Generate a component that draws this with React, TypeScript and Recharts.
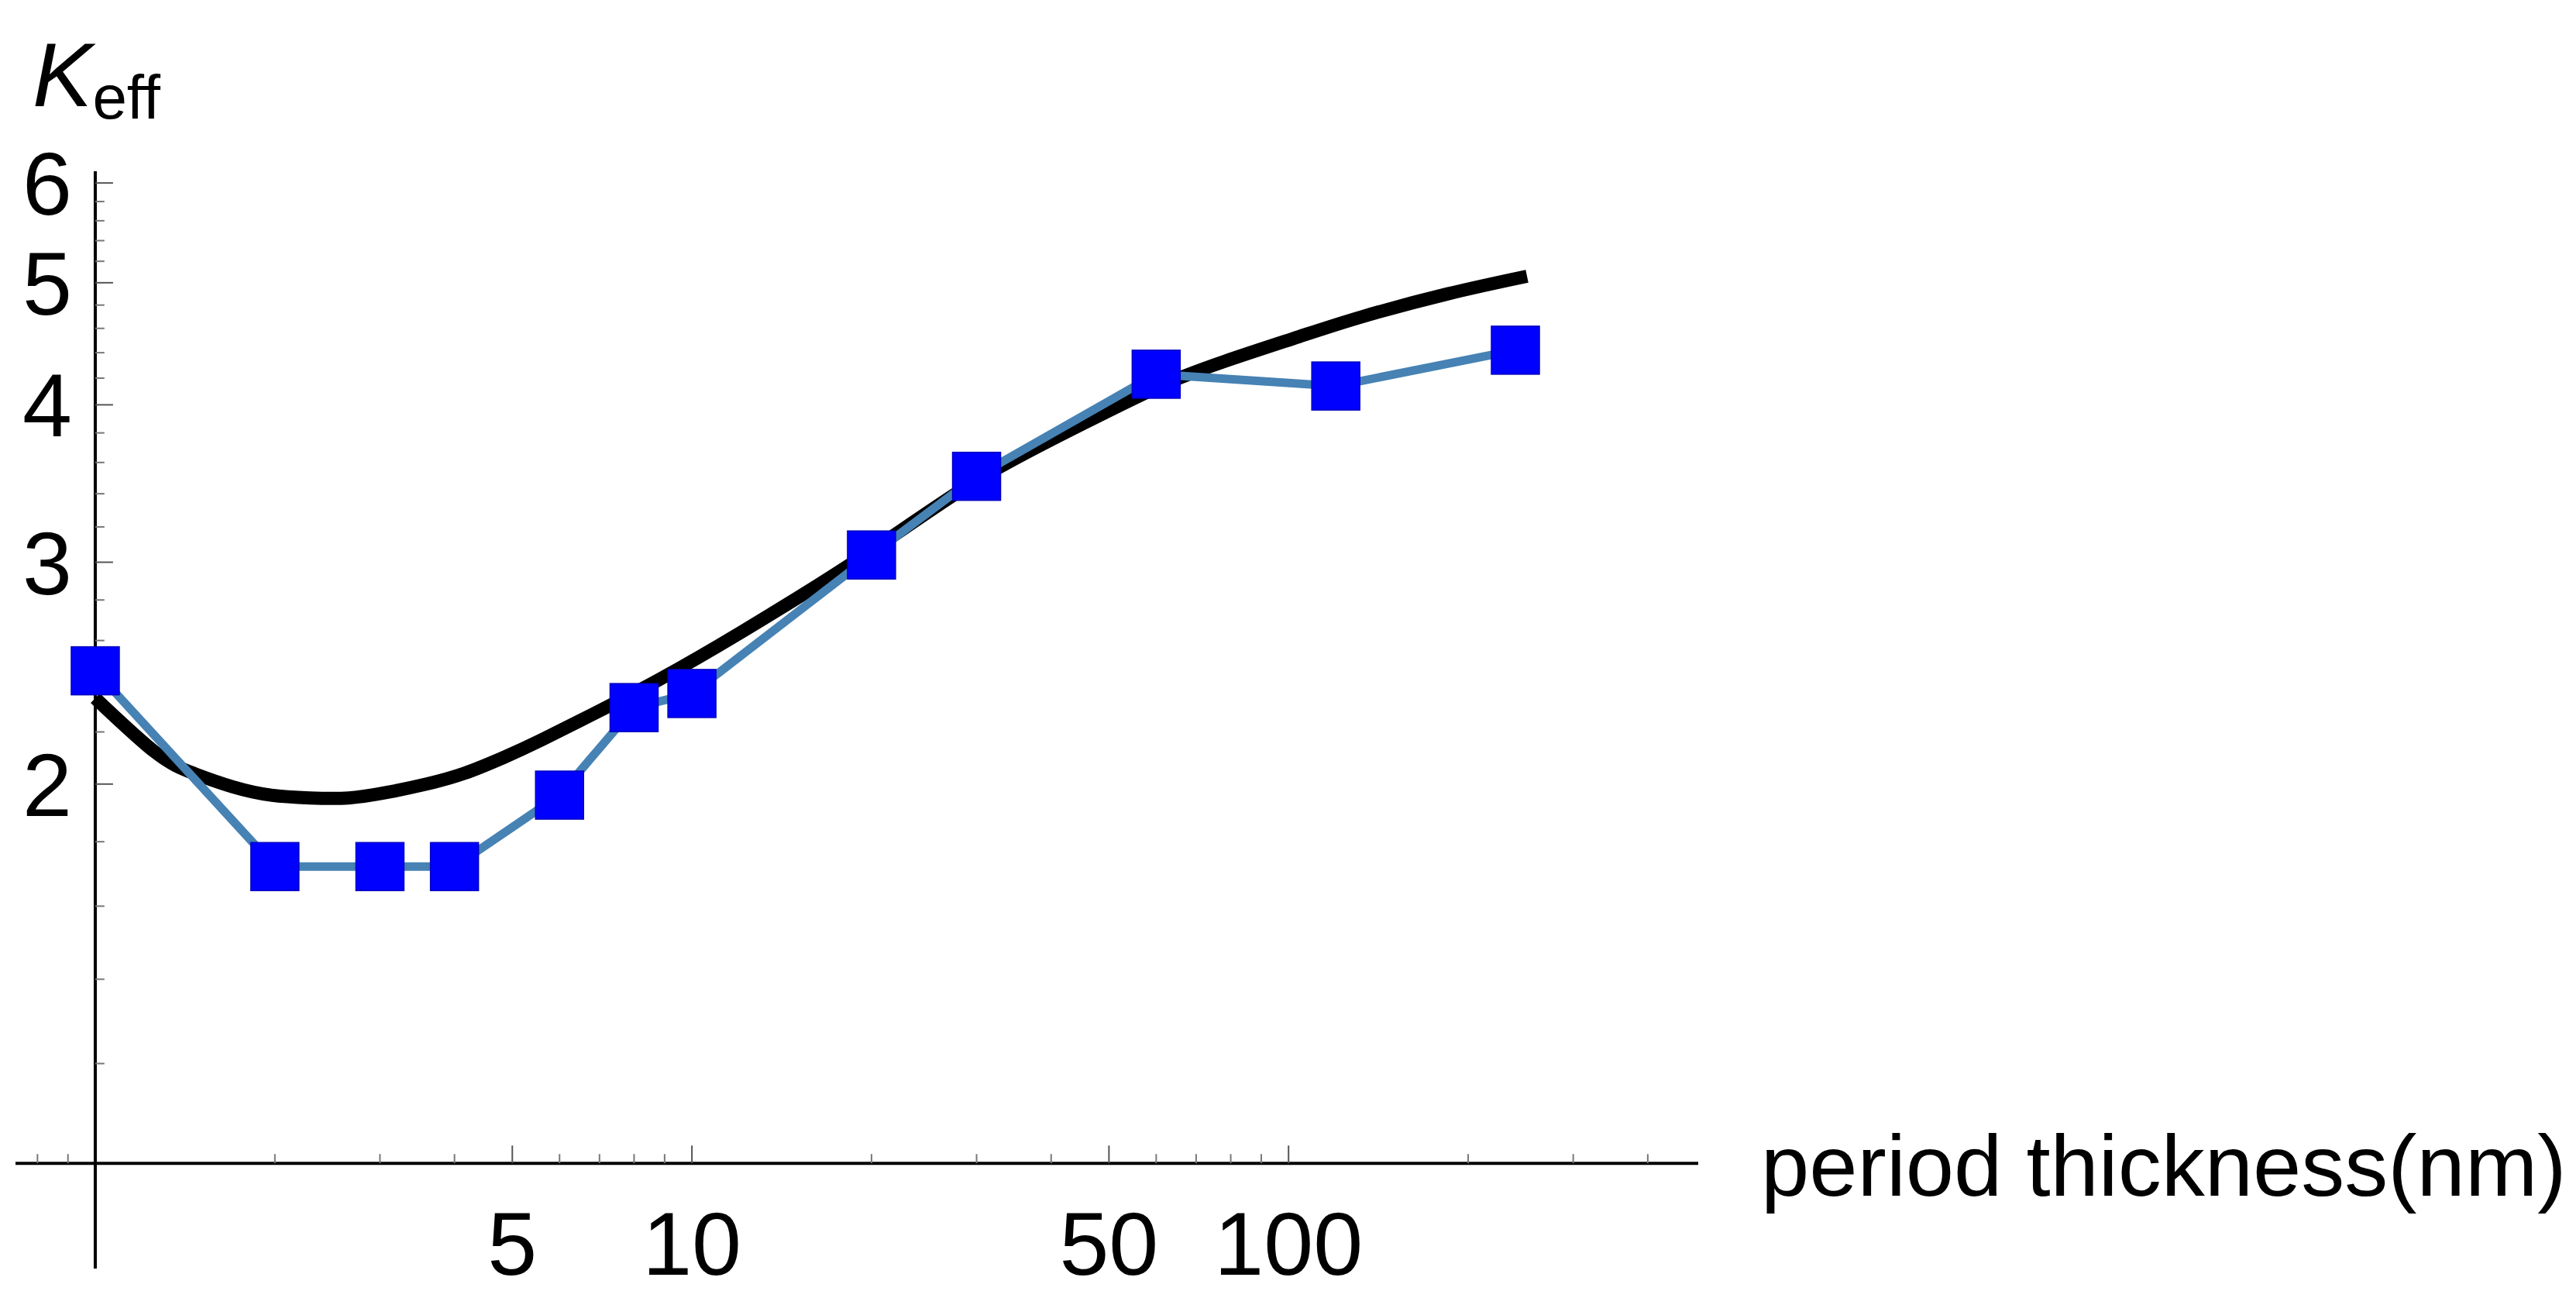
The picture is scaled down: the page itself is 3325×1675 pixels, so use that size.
import { LineChart, Line, XAxis, YAxis, ReferenceLine } from "recharts"

// measured points (period thickness in nm, K_eff)
const thickness = [1, 2, 3, 4, 6, 8, 10, 20, 30, 60, 120, 240]
const keffMeasured = [2.46, 1.72, 1.72, 1.72, 1.96, 2.3, 2.36, 3.04, 3.51, 4.23, 4.14, 4.42]

// fitted curve
const fitThickness = [1, 1.26, 1.46, 1.7, 1.97, 2.29, 2.66, 3.09, 3.59, 4.16, 4.84, 5.62, 7.3, 8.8, 12.1, 20.1, 30.2, 45.5, 61, 78, 104, 133, 185, 251]
const keffFit = [2.34, 2.12, 2.04, 1.99, 1.96, 1.95, 1.95, 1.97, 2.0, 2.04, 2.1, 2.17, 2.31, 2.42, 2.64, 3.07, 3.49, 3.87, 4.14, 4.33, 4.53, 4.7, 4.9, 5.06]

const xMajorTicks = [5, 10, 50, 100]
const xMinorTicks = [0.8, 0.9, 2, 3, 4, 6, 7, 8, 9, 20, 30, 40, 60, 70, 80, 90, 200, 300, 400]
const yMajorTicks = [2, 3, 4, 5, 6]
const yMinorTicks = [1.2, 1.4, 1.6, 1.8, 2.2, 2.4, 2.6, 2.8, 3.2, 3.4, 3.6, 3.8, 4.2, 4.4, 4.6, 4.8, 5.2, 5.4, 5.6, 5.8]

const measured = thickness.map((x, i) => ({ x, y: keffMeasured[i] }))
const fit = fitThickness.map((x, i) => ({ x, y: keffFit[i] }))

const font = "'Liberation Sans', Arial, sans-serif"

// tick lengths as ratios on the log axes
const xTickMajor = 1.033
const xTickMinor = 1.017
const yTickMajor = 1.071
const yTickMinor = 1.036

function Square(props: any) {
  const { cx, cy, index } = props
  if (cx == null || cy == null) return null
  return (
    <rect key={index} x={cx - 31} y={cy - 31} width={62} height={62} fill="#0000ff" stroke="#0000c0" strokeWidth={1.5} />
  )
}

function XTick(props: any) {
  const { x, y, payload } = props
  return (
    <text x={x} y={y + 8} textAnchor="middle" fontSize={115} fontFamily={font} fill="#000">
      {payload.value}
    </text>
  )
}

function YTick(props: any) {
  const { x, y, payload } = props
  return (
    <text x={x + 73} y={y + 41} textAnchor="end" fontSize={115} fontFamily={font} fill="#000">
      {payload.value}
    </text>
  )
}

function KeffLabel() {
  return (
    <text x={42} y={137} fontSize={116} fontFamily={font} fill="#000">
      <tspan fontStyle="italic">K</tspan>
      <tspan fontSize={80} dy={16}>eff</tspan>
    </text>
  )
}

function XLabel() {
  return (
    <text x={2273} y={1543} fontSize={112} fontFamily={font} fill="#000">
      period thickness(nm)
    </text>
  )
}

export default function App() {
  return (
    <div style={{ position: "absolute", left: 0, top: 0, background: "#fff", fontFamily: font }}>
      <LineChart width={3325} height={1675} margin={{ top: 221, right: 1133, bottom: 0, left: 0 }}>
        <XAxis
          dataKey="x"
          type="number"
          scale="log"
          domain={[0.735, 486]}
          allowDataOverflow
          ticks={xMajorTicks}
          interval={0}
          height={38}
          axisLine={false}
          tickLine={false}
          tickSize={0}
          tickMargin={0}
          tick={XTick}
          label={XLabel}
        />
        <YAxis
          type="number"
          scale="log"
          domain={[0.825, 6.13]}
          allowDataOverflow
          ticks={yMajorTicks}
          interval={0}
          width={20}
          axisLine={false}
          tickLine={false}
          tickSize={0}
          tickMargin={0}
          tick={YTick}
          label={KeffLabel}
        />
        <Line data={fit} dataKey="y" type="natural" stroke="#000" strokeWidth={17} dot={false} isAnimationActive={false} />
        <Line
          data={measured}
          dataKey="y"
          type="linear"
          stroke="#4682b4"
          strokeWidth={11}
          dot={<Square />}
          isAnimationActive={false}
        />
        <ReferenceLine y={1} stroke="#000" strokeWidth={4} />
        <ReferenceLine x={1} stroke="#000" strokeWidth={4} />
        {xMajorTicks.map((v) => (
          <ReferenceLine key={"xM" + v} segment={[{ x: v, y: 1 }, { x: v, y: xTickMajor }]} stroke="#555" strokeWidth={2} />
        ))}
        {xMinorTicks.map((v) => (
          <ReferenceLine key={"xm" + v} segment={[{ x: v, y: 1 }, { x: v, y: xTickMinor }]} stroke="#777" strokeWidth={2} />
        ))}
        {yMajorTicks.map((v) => (
          <ReferenceLine key={"yM" + v} segment={[{ x: 1, y: v }, { x: yTickMajor, y: v }]} stroke="#555" strokeWidth={2} />
        ))}
        {yMinorTicks.map((v) => (
          <ReferenceLine key={"ym" + v} segment={[{ x: 1, y: v }, { x: yTickMinor, y: v }]} stroke="#777" strokeWidth={2} />
        ))}
      </LineChart>
    </div>
  )
}
